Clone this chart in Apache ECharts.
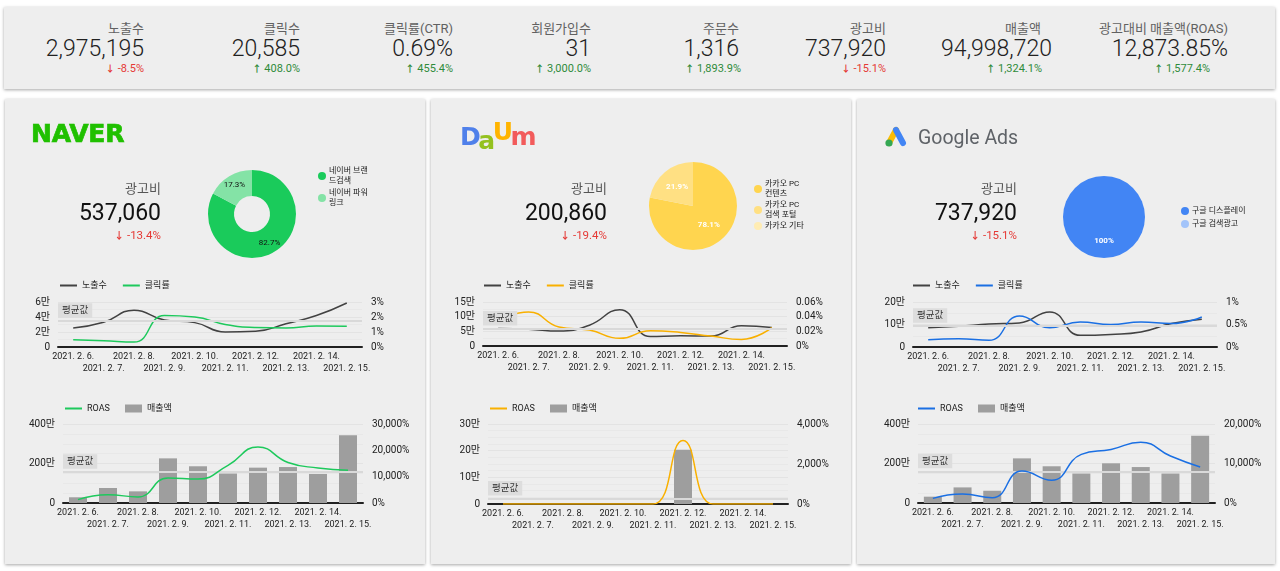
<!DOCTYPE html>
<html>
<head>
<meta charset="utf-8">
<script src="https://cdn.jsdelivr.net/npm/echarts@6/dist/echarts.min.js"></script>
<style>
body { margin: 0; width: 1280px; height: 571px; position: relative; overflow: hidden; background: #fff;
  font-family: Roboto, "Noto Sans CJK KR", sans-serif; }
.card { position: absolute; background: #eeeeee; box-shadow: 0 1px 3px rgba(0,0,0,0.35); }
.t { position: absolute; white-space: nowrap; text-align: right; }
.chart { position: absolute; left: 0; top: 0; width: 100%; height: 100%; }
.over { position: absolute; z-index: 2; }
.arr { font-size: 0.85em; font-weight: bold; }
</style>
</head>
<body>
<div class="card" id="kpi" style="left:4px;top:7px;width:1271px;height:82px"></div>
<div class="card" id="p0" style="left:5px;top:99px;width:420px;height:465px"></div>
<div class="card" id="p1" style="left:431px;top:99px;width:420px;height:465px"></div>
<div class="card" id="p2" style="left:857px;top:99px;width:418px;height:465px"></div>

<script>
// ---- data ----
var dates = ['2021. 2. 6.', '2021. 2. 7.', '2021. 2. 8.', '2021. 2. 9.', '2021. 2. 10.',
             '2021. 2. 11.', '2021. 2. 12.', '2021. 2. 13.', '2021. 2. 14.', '2021. 2. 15.'];

var kpiLabels = ['노출수', '클릭수', '클릭률(CTR)', '회원가입수', '주문수', '광고비', '매출액', '광고대비 매출액(ROAS)'];
var kpiValues = ['2,975,195', '20,585', '0.69%', '31', '1,316', '737,920', '94,998,720', '12,873.85%'];
var kpiDeltas = ['-8.5%', '408.0%', '455.4%', '3,000.0%', '1,893.9%', '-15.1%', '1,324.1%', '1,577.4%'];
var kpiUp = [false, true, true, true, true, false, true, true];

var naverPieNames = ['네이버 브랜드검색', '네이버 파워링크'];
var naverPieValues = [82.7, 17.3];
var naverImp = [25300, 33000, 49000, 36000, 32500, 20000, 21000, 31000, 42000, 58700];
var naverCtr = [0.49, 0.42, 0.33, 2.1, 2.0, 1.5, 1.3, 1.27, 1.4, 1.38];
var naverRevenue = [290000, 760000, 590000, 2260000, 1860000, 1490000, 1790000, 1820000, 1470000, 3430000];
var naverRoas = [1270, 3160, 2280, 9500, 9100, 14300, 21300, 15400, 13300, 12400];

var daumPieNames = ['카카오 PC 컨텐츠', '카카오 PC 검색 포털', '카카오 기타'];
var daumPieValues = [78.1, 21.9, 0];
var daumImp = [60000, 57500, 51000, 71000, 124000, 32000, 35000, 34000, 69000, 63000];
var daumCtr = [0.036, 0.0465, 0.026, 0.0217, 0.0104, 0.0208, 0.0185, 0.0135, 0.009, 0.025];
var daumRevenue = [0, 0, 0, 0, 0, 0, 203000, 0, 0, 0];
var daumRoas = [0, 0, 0, 0, 0, 0, 3180, 0, 0, 0];

var googlePieNames = ['구글 디스플레이', '구글 검색광고'];
var googlePieValues = [100, 0];
var googleImp = [86000, 92000, 102000, 107000, 156000, 52000, 56000, 67000, 104000, 123000];
var googleCtr = [0.163, 0.185, 0.148, 0.69, 0.43, 0.556, 0.50, 0.556, 0.52, 0.667];
var googleRevenue = [320000, 790000, 620000, 2260000, 1860000, 1490000, 2010000, 1820000, 1490000, 3410000];
var googleRoas = [1170, 2260, 1340, 8100, 5780, 12300, 13560, 15400, 11900, 9100];

var panelCost = ['537,060', '200,860', '737,920'];
var panelCostDelta = ['-13.4%', '-19.4%', '-15.1%'];

// ---- layout (page px) ----
var kpiValueRight = [144, 300, 453, 591, 739, 886, 1052, 1228];
var kpiLabelShift = [0, 0, 0, 0, 0, 0, -11, 0];
var kpiDeltaShift = [0, 0, 0, 0, 2, 0, -10, -18];

var FONT = 'Roboto, "Noto Sans CJK KR", sans-serif';
var RED = '#e53935', GREEN = '#2e8b3a';

function text(parent, html, right, top, size, color, extra) {
    var d = document.createElement('div');
    d.className = 't';
    d.innerHTML = html;
    d.style.right = right + 'px';
    d.style.top = top + 'px';
    d.style.fontSize = size + 'px';
    d.style.lineHeight = Math.round(size * 1.2) + 'px';
    d.style.color = color;
    if (extra) Object.assign(d.style, extra);
    parent.appendChild(d);
    return d;
}

function deltaText(str, up) {
    return '<span class="arr">' + (up ? '↑' : '↓') + '</span> ' + str;
}

// - 상단 KPI
var kpi = document.getElementById('kpi');
for (var i = 0; i < kpiLabels.length; i++) {
    var r = 1271 - (kpiValueRight[i] - 4);
    text(kpi, kpiLabels[i], r - kpiLabelShift[i], 14, 13, '#616161');
    text(kpi, kpiValues[i], r, 28, 23, '#212121', { fontWeight: 300 });
    text(kpi, deltaText(kpiDeltas[i], kpiUp[i]), r - kpiDeltaShift[i], 55, 11, kpiUp[i] ? GREEN : RED);
}

// - 로고
function logoNaver(p) {
    var d = document.createElement('div');
    d.className = 'over';
    d.textContent = 'NAVER';
    Object.assign(d.style, { left: '26px', top: '22px', fontFamily: '"DejaVu Sans"', fontWeight: 'bold',
        fontSize: '25px', lineHeight: '25px', color: '#20c000', letterSpacing: '-0.2px',
        webkitTextStroke: '0.7px #20c000' });
    p.appendChild(d);
}
function logoDaum(p) {
    var d = document.createElement('div');
    d.className = 'over';
    Object.assign(d.style, { left: '29px', top: '24px', fontFamily: '"DejaVu Sans"', fontWeight: 'bold',
        fontSize: '25px', lineHeight: '28px', letterSpacing: '-2.5px' });
    d.innerHTML = '<span style="color:#4f80ea">D</span>' +
        '<span style="color:#94c11f;position:relative;top:4px">a</span>' +
        '<span style="color:#ffb400;position:relative;top:-5px">U</span>' +
        '<span style="color:#f25b5b">m</span>';
    p.appendChild(d);
}
function logoGoogle(p) {
    var d = document.createElement('div');
    d.className = 'over';
    Object.assign(d.style, { left: '26px', top: '26px', width: '180px', height: '26px' });
    d.innerHTML = '<svg width="26" height="24" viewBox="0 0 26 24" style="position:absolute;left:0;top:0">' +
        '<line x1="6" y1="18" x2="13" y2="5" stroke="#fbbc04" stroke-width="6" stroke-linecap="round"/>' +
        '<line x1="13" y1="5" x2="20" y2="18" stroke="#4285f4" stroke-width="6" stroke-linecap="round"/>' +
        '<circle cx="6" cy="18" r="3.6" fill="#34a853"/></svg>' +
        '<div style="position:absolute;left:35px;top:0;font-size:19.5px;line-height:26px;color:#5f6368;white-space:nowrap">Google Ads</div>';
    p.appendChild(d);
}

function yLeft(gi, max, interval, fmt, minor) {
    return {
        type: 'value', gridIndex: gi, min: 0, max: max, interval: interval,
        axisLine: { show: false }, axisTick: { show: false },
        axisLabel: { fontSize: 10, color: '#212121', margin: 8, fontFamily: FONT, formatter: fmt },
        splitLine: { lineStyle: { color: '#e3e3e3', width: 1 } },
        minorTick: { show: false, splitNumber: minor },
        minorSplitLine: { show: true, lineStyle: { color: '#e8e8e8', width: 1 } }
    };
}
function yRight(gi, max, interval, fmt) {
    return {
        type: 'value', gridIndex: gi, position: 'right', min: 0, max: max, interval: interval,
        axisLine: { show: false }, axisTick: { show: false }, splitLine: { show: false },
        axisLabel: { fontSize: 10, color: '#212121', margin: 9, fontFamily: FONT, formatter: fmt }
    };
}
function xCat(gi) {
    return {
        type: 'category', gridIndex: gi, data: dates, boundaryGap: true, z: 0,
        axisLine: { lineStyle: { color: '#212121', width: 2 } }, axisTick: { show: false },
        axisLabel: { interval: 0, fontSize: 9, color: '#212121', lineHeight: 12, margin: 4, fontFamily: FONT,
            formatter: function (v, idx) { return idx % 2 ? '\n' + v : v; } }
    };
}
function avgLine() {
    return {
        symbol: 'none', silent: true, data: [{ type: 'average' }],
        lineStyle: { color: '#d9d9d9', width: 2, type: 'solid' },
        label: { position: 'insideStartTop', formatter: '평균값', backgroundColor: '#dddddd', color: '#333',
            fontSize: 9.5, padding: [3, 4, 2, 4], distance: [0, 3], fontFamily: FONT }
    };
}
function wan(v) { return v === 0 ? '0' : (v / 10000) + '만'; }
function roasFmt(v) { return v.toLocaleString('en-US') + '%'; }

var panels = [
    { id: 'p0', logo: logoNaver, color: '#1dc95c',
      pieNames: naverPieNames, pieValues: naverPieValues, pieColors: ['#1acb5b', '#84e3a6'],
      pieCenter: [247, 115], pieRadius: ['18', '44'], pieLabelColor: '#111', pieLabelBold: 'normal',
      legendPos: [313, 67], legendGap: 2, legendWidth: 44,
      imp: naverImp, ctr: naverCtr, rev: naverRevenue, roas: naverRoas,
      impMax: 60000, impInt: 20000, ctrMax: 3, ctrInt: 1, ctrFmt: function (v) { return v + '%'; },
      revMax: 4000000, revInt: 2000000, roasMax: 30000, roasInt: 10000,
      lineGrid: { left: 53, top: 203, width: 304, height: 45 },
      barGrid: { left: 58, top: 325, width: 300, height: 79 },
      lineLegend: 55, barLegend: 60, costRight: 156 },
    { id: 'p1', logo: logoDaum, color: '#f9b000',
      pieNames: daumPieNames, pieValues: daumPieValues, pieColors: ['#ffd54f', '#ffe083', '#ffecb3'],
      pieCenter: [262, 107], pieRadius: ['0', '44'], pieLabelColor: '#fff', pieLabelBold: 'bold',
      legendPos: [323, 80], legendGap: 1, legendWidth: 44,
      imp: daumImp, ctr: daumCtr, rev: daumRevenue, roas: daumRoas,
      impMax: 150000, impInt: 50000, ctrMax: 0.06, ctrInt: 0.02,
      ctrFmt: function (v) { return v === 0 ? '0%' : v.toFixed(2) + '%'; },
      revMax: 300000, revInt: 100000, roasMax: 4000, roasInt: 2000,
      lineGrid: { left: 52, top: 203, width: 304, height: 44 },
      barGrid: { left: 57, top: 325, width: 300, height: 80 },
      lineLegend: 53, barLegend: 59, costRight: 176 },
    { id: 'p2', logo: logoGoogle, color: '#1a6fe3',
      pieNames: googlePieNames, pieValues: googlePieValues, pieColors: ['#4285f4', '#a3c4fa'],
      pieCenter: [247, 118], pieRadius: ['0', '41'], pieLabelColor: '#fff', pieLabelBold: 'bold',
      legendPos: [324, 107], legendGap: 3, legendWidth: 90,
      imp: googleImp, ctr: googleCtr, rev: googleRevenue, roas: googleRoas,
      impMax: 200000, impInt: 100000, ctrMax: 1, ctrInt: 0.5, ctrFmt: function (v) { return v + '%'; },
      revMax: 4000000, revInt: 2000000, roasMax: 20000, roasInt: 10000,
      lineGrid: { left: 56, top: 203, width: 304, height: 45 },
      barGrid: { left: 61, top: 325, width: 297, height: 79 },
      lineLegend: 56, barLegend: 61, costRight: 160 }
];

var legendText = { fontSize: 9, color: '#212121' };

panels.forEach(function (p, k) {
    var box = document.getElementById(p.id);
    var el = document.createElement('div');
    el.className = 'chart';
    box.appendChild(el);
    p.logo(box);

    // 광고비 블록
    var rr = parseInt(box.style.width) - p.costRight;
    text(box, '광고비', rr, 82, 13, '#555', { zIndex: 2 });
    text(box, panelCost[k], rr, 100, 23, '#111', { zIndex: 2 });
    text(box, deltaText(panelCostDelta[k], false), rr, 129, 11.5, RED, { zIndex: 2 });

    var chart = echarts.init(el);
    var option = {
        animation: false,
        textStyle: { fontFamily: FONT },
        legend: [
            { data: p.pieNames, orient: 'vertical', left: p.legendPos[0], top: p.legendPos[1], padding: 0,
              icon: 'circle', itemWidth: 8, itemHeight: 8, itemGap: p.legendGap, selectedMode: false,
              textStyle: { fontSize: 8, color: '#212121', lineHeight: 10, width: p.legendWidth,
                           overflow: 'breakAll', padding: [0, 0, 0, -2] } },
            { data: ['노출수', '클릭률'], left: p.lineLegend, top: 182, padding: 0, icon: 'rect',
              itemWidth: 17, itemHeight: 2, itemGap: 16, selectedMode: false, textStyle: legendText },
            { data: ['ROAS'], left: p.barLegend, top: 305, padding: 0, icon: 'rect', itemWidth: 17,
              itemHeight: 2, selectedMode: false, textStyle: legendText },
            { data: ['매출액'], left: p.barLegend + 60, top: 305, padding: 0, icon: 'rect', itemWidth: 17,
              itemHeight: 8, selectedMode: false, textStyle: legendText }
        ],
        grid: [p.lineGrid, p.barGrid],
        xAxis: [xCat(0), xCat(1)],
        yAxis: [
            yLeft(0, p.impMax, p.impInt, wan, 2),
            yRight(0, p.ctrMax, p.ctrInt, p.ctrFmt),
            yLeft(1, p.revMax, p.revInt, wan, 4),
            yRight(1, p.roasMax, p.roasInt, roasFmt)
        ],
        series: [
            { type: 'pie', center: p.pieCenter, radius: p.pieRadius, data: p.pieNames.map(function (n, i) {
                  return { name: n, value: p.pieValues[i] }; }),
              color: p.pieColors, silent: true, labelLine: { show: false },
              label: { position: 'inside', fontSize: 8, color: p.pieLabelColor, fontWeight: p.pieLabelBold,
                       formatter: function (d) { return d.value > 0 ? d.value + '%' : ''; } } },
            { name: '노출수', type: 'line', xAxisIndex: 0, yAxisIndex: 0, data: p.imp, smooth: true,
              symbol: 'none', color: '#424242', lineStyle: { width: 1.5 }, markLine: avgLine() },
            { name: '클릭률', type: 'line', xAxisIndex: 0, yAxisIndex: 1, data: p.ctr, smooth: true,
              symbol: 'none', color: p.color, lineStyle: { width: 1.5 } },
            { name: '매출액', type: 'bar', xAxisIndex: 1, yAxisIndex: 2, data: p.rev, barWidth: 18,
              color: '#9e9e9e', markLine: avgLine() },
            { name: 'ROAS', type: 'line', xAxisIndex: 1, yAxisIndex: 3, data: p.roas, smooth: true,
              symbol: 'none', color: p.color, lineStyle: { width: 1.5 }, z: 5 }
        ]
    };
    chart.setOption(option);
});
</script>
</body>
</html>
